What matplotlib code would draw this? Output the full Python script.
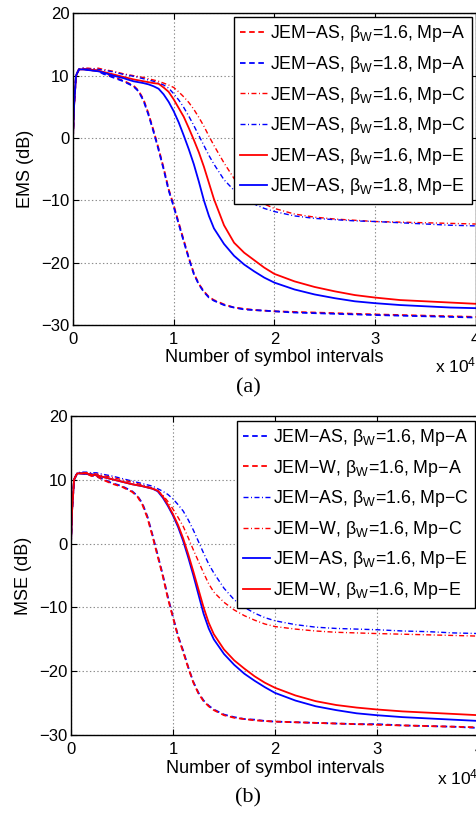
import matplotlib
matplotlib.use("Agg")
import matplotlib.pyplot as plt

plt.rcParams['font.family'] = ['Liberation Sans', 'DejaVu Sans']
plt.rcParams['mathtext.fontset'] = 'custom'
plt.rcParams['mathtext.rm'] = 'Liberation Sans'
plt.rcParams['mathtext.it'] = 'Liberation Sans:italic'
plt.rcParams['mathtext.bf'] = 'Liberation Sans:bold'
plt.rcParams['lines.scale_dashes'] = False
plt.rcParams['axes.unicode_minus'] = True

# symbol index, in units of 10^4 symbol intervals
n_symbols = [0, 0.01, 0.03, 0.06, 0.1, 0.15, 0.2, 0.25, 0.3, 0.4, 0.5, 0.6, 0.65, 0.7,
             0.75, 0.8, 0.85, 0.9, 0.95, 1.0, 1.05, 1.1, 1.15, 1.2, 1.25, 1.3, 1.35,
             1.4, 1.5, 1.6, 1.7, 1.8, 1.9, 2.0, 2.2, 2.4, 2.6, 2.8, 3.0, 3.25, 3.5,
             3.75, 4.0]

# (a) EMS in dB, JEM-AS with two step-size factors
ems_as16_mpa = [0, 5.0, 10.0, 11.1, 11.1, 11.0, 10.8, 10.9, 10.4, 9.8, 9.2, 8.4, 7.6, 6.2,
                3.9, 1.2, -1.7, -4.8, -8.2, -10.8, -13.6, -16.4, -19.2, -21.7, -23.4,
                -24.6, -25.5, -26.0, -26.7, -27.2, -27.4, -27.6, -27.7, -27.8, -27.9,
                -28.0, -28.1, -28.2, -28.3, -28.4, -28.5, -28.6, -28.7]
ems_as18_mpa = [0, 5.2, 10.1, 11.0, 11.1, 10.9, 10.9, 10.7, 10.3, 9.7, 9.1, 8.3, 7.5, 6.0,
                3.7, 1.0, -1.9, -5.0, -8.4, -11.0, -13.8, -16.6, -19.3, -21.8, -23.5,
                -24.7, -25.6, -26.1, -26.8, -27.2, -27.5, -27.6, -27.7, -27.8, -28.0,
                -28.1, -28.2, -28.3, -28.4, -28.5, -28.6, -28.7, -28.8]
ems_as16_mpc = [0, 4.8, 9.8, 11.0, 11.2, 11.2, 11.1, 11.2, 11.0, 10.7, 10.3, 10.0, 9.85,
                9.7, 9.5, 9.3, 9.1, 8.8, 8.5, 8.1, 7.4, 6.6, 5.7, 4.6, 3.3, 1.9, 0.3,
                -1.2, -4.0, -6.5, -8.3, -9.6, -10.6, -11.3, -12.2, -12.7, -13.0, -13.2,
                -13.4, -13.5, -13.6, -13.7, -13.8]
ems_as18_mpc = [0, 5.0, 10.0, 11.1, 11.2, 11.1, 11.1, 11.0, 10.9, 10.6, 10.2, 9.9, 9.7,
                9.5, 9.3, 9.1, 8.8, 8.5, 8.0, 7.1, 6.1, 4.9, 3.5, 2.0, 0.4, -1.2, -2.8,
                -4.2, -6.7, -8.4, -9.6, -10.6, -11.3, -11.8, -12.5, -12.9, -13.1, -13.3,
                -13.4, -13.6, -13.8, -14.0, -14.1]
ems_as16_mpe = [0, 5.0, 10.0, 11.0, 11.0, 11.0, 10.9, 10.8, 10.6, 10.2, 9.8, 9.4, 9.25,
                9.1, 8.95, 8.8, 8.7, 8.1, 7.4, 6.2, 4.8, 3.4, 1.6, -0.3, -2.3, -4.6, -7.2,
                -9.8, -14.0, -16.8, -18.4, -19.6, -20.8, -21.8, -23.0, -23.9, -24.6,
                -25.2, -25.6, -26.0, -26.2, -26.4, -26.6]
ems_as18_mpe = [0, 5.0, 10.0, 11.0, 11.0, 10.9, 10.8, 10.7, 10.5, 10.0, 9.6, 9.1, 8.95,
                8.8, 8.6, 8.3, 7.9, 7.0, 5.8, 4.3, 2.5, 0.4, -1.8, -4.2, -7.0, -10.0,
                -12.5, -14.5, -17.0, -18.9, -20.3, -21.4, -22.4, -23.2, -24.3, -25.1,
                -25.7, -26.2, -26.5, -26.8, -27.0, -27.2, -27.3]

# (b) MSE in dB, JEM-AS vs JEM-W with beta_W = 1.6
mse_as_mpa = [0, 5.0, 10.0, 11.0, 11.0, 10.9, 10.7, 10.5, 10.2, 9.5, 9.0, 8.2, 7.5, 6.3,
              4.2, 1.3, -1.8, -4.9, -8.4, -11.5, -14.5, -16.8, -19.4, -21.7, -23.4, -24.6,
              -25.4, -26.0, -26.8, -27.2, -27.5, -27.6, -27.8, -27.9, -28.0, -28.1, -28.2,
              -28.3, -28.3, -28.5, -28.6, -28.7, -28.9]
mse_w_mpa = [0, 5.2, 10.1, 11.1, 11.0, 11.0, 10.6, 10.6, 10.1, 9.4, 8.9, 8.1, 7.4, 6.1,
             4.0, 1.1, -2.0, -5.1, -8.6, -11.6, -14.6, -17.0, -19.5, -21.8, -23.5, -24.7,
             -25.5, -26.1, -26.9, -27.3, -27.5, -27.7, -27.8, -27.9, -28.0, -28.1, -28.2,
             -28.3, -28.4, -28.5, -28.6, -28.7, -28.8]
mse_as_mpc = [0, 5.0, 10.0, 11.1, 11.2, 11.2, 11.1, 11.1, 10.9, 10.6, 10.2, 9.8, 9.6, 9.4,
              9.2, 9.0, 8.6, 8.2, 7.7, 7.0, 6.1, 5.1, 3.7, 2.1, 0.3, -1.5, -3.2, -4.6, -7.0,
              -8.8, -10.0, -10.9, -11.6, -12.1, -12.7, -13.1, -13.3, -13.4, -13.5, -13.7,
              -13.8, -14.0, -14.1]
mse_w_mpc = [0, 5.0, 10.0, 11.0, 11.1, 11.1, 11.0, 10.9, 10.7, 10.4, 10.0, 9.6, 9.4, 9.2,
             8.95, 8.7, 8.3, 7.6, 6.6, 5.4, 4.1, 2.7, 0.9, -1.0, -2.8, -4.6, -6.3, -7.6,
             -9.2, -10.4, -11.3, -12.0, -12.6, -13.0, -13.4, -13.7, -13.9, -14.0, -14.1,
             -14.2, -14.3, -14.4, -14.5]
mse_as_mpe = [0, 5.0, 10.0, 11.0, 11.0, 10.9, 10.9, 10.7, 10.5, 10.1, 9.7, 9.3, 9.15, 9.0,
              8.8, 8.6, 8.2, 7.2, 5.9, 4.4, 2.6, 0.4, -2.2, -5.0, -8.0, -11.0, -13.3,
              -15.0, -17.3, -19.0, -20.4, -21.5, -22.5, -23.4, -24.6, -25.5, -26.1, -26.6,
              -26.9, -27.2, -27.4, -27.6, -27.8]
mse_w_mpe = [0, 5.0, 10.0, 11.0, 11.0, 11.0, 10.8, 10.7, 10.5, 10.1, 9.7, 9.3, 9.15, 9.0,
             8.8, 8.6, 8.3, 7.4, 6.1, 4.6, 2.9, 0.8, -1.7, -4.4, -7.2, -10.0, -12.4, -14.2,
             -16.6, -18.3, -19.6, -20.8, -21.8, -22.6, -23.8, -24.7, -25.3, -25.7, -26.0,
             -26.3, -26.5, -26.7, -26.9]

x_ticks = [0, 1, 2, 3, 4]
y_ticks = [-30, -20, -10, 0, 10, 20]

labels_a = ["JEM\u2212AS, \u03b2$_\\mathrm{W}$=1.6, Mp\u2212A",
            "JEM\u2212AS, \u03b2$_\\mathrm{W}$=1.8, Mp\u2212A",
            "JEM\u2212AS, \u03b2$_\\mathrm{W}$=1.6, Mp\u2212C",
            "JEM\u2212AS, \u03b2$_\\mathrm{W}$=1.8, Mp\u2212C",
            "JEM\u2212AS, \u03b2$_\\mathrm{W}$=1.6, Mp\u2212E",
            "JEM\u2212AS, \u03b2$_\\mathrm{W}$=1.8, Mp\u2212E"]
labels_b = ["JEM\u2212AS, \u03b2$_\\mathrm{W}$=1.6, Mp\u2212A",
            "JEM\u2212W, \u03b2$_\\mathrm{W}$=1.6, Mp\u2212A",
            "JEM\u2212AS, \u03b2$_\\mathrm{W}$=1.6, Mp\u2212C",
            "JEM\u2212W, \u03b2$_\\mathrm{W}$=1.6, Mp\u2212C",
            "JEM\u2212AS, \u03b2$_\\mathrm{W}$=1.6, Mp\u2212E",
            "JEM\u2212W, \u03b2$_\\mathrm{W}$=1.6, Mp\u2212E"]

RED = (1, 0, 0)
BLUE = (0, 0, 1)
DASH = dict(linestyle='--', dashes=(4.0, 2.6), lw=1.3)
DASHDOT = dict(linestyle='-.', dashes=(3.6, 1.8, 0.7, 1.8), lw=1.0)
SOLID = dict(linestyle='-', lw=1.3)

LEGEND_SIZE = 12.8
LABEL_SIZE = 13
TICK_SIZE = 12

W, H = 476, 814
fig = plt.figure(figsize=(W / 100, H / 100), dpi=100)


def frac_x(px):
    return px / W


def frac_y(py):
    return 1 - py / H


def style_axes(ax, ylabel):
    ax.set_xlim(0, 4)
    ax.set_ylim(-30, 20)
    ax.set_xticks(x_ticks)
    ax.set_yticks(y_ticks)
    ax.tick_params(direction='in', length=4, width=0.8, top=True, right=True,
                   labelsize=TICK_SIZE)
    ax.tick_params(axis='x', pad=5)
    ax.tick_params(axis='y', pad=2.5)
    ax.grid(True, linestyle=':', color='#8c8c8c', lw=0.8)
    for s in ax.spines.values():
        s.set_linewidth(1.0)
        s.set_color('black')
    ax.set_xlabel("Number of symbol intervals", fontsize=LABEL_SIZE, va='baseline')
    ax.xaxis.set_label_coords(0.5, -0.118)
    ax.set_ylabel(ylabel, fontsize=LABEL_SIZE, va='center')


def add_legend(ax, anchor):
    leg = ax.legend(loc='upper right', bbox_to_anchor=anchor,
                    bbox_transform=fig.transFigure, fontsize=LEGEND_SIZE, frameon=True,
                    fancybox=False, shadow=False, framealpha=1, edgecolor='black',
                    handlelength=1.5, handletextpad=0.15, borderpad=0.36,
                    labelspacing=0.54, borderaxespad=0)
    leg.get_frame().set_linewidth(1.0)
    return leg


# ---- panel (a) ----
ax1 = fig.add_axes([frac_x(73), frac_y(325), (475.7 - 73) / W, (325 - 13.3) / H])
ax1.plot(n_symbols, ems_as16_mpa, color=RED, label=labels_a[0], **DASH)
ax1.plot(n_symbols, ems_as18_mpa, color=BLUE, label=labels_a[1], **DASH)
ax1.plot(n_symbols, ems_as16_mpc, color=RED, label=labels_a[2], **DASHDOT)
ax1.plot(n_symbols, ems_as18_mpc, color=BLUE, label=labels_a[3], **DASHDOT)
ax1.plot(n_symbols, ems_as16_mpe, color=RED, label=labels_a[4], **SOLID)
ax1.plot(n_symbols, ems_as18_mpe, color=BLUE, label=labels_a[5], **SOLID)
style_axes(ax1, "EMS (dB)")
ax1.yaxis.set_label_coords((26 - 73) / (475.7 - 73), 0.5)
add_legend(ax1, (frac_x(472), frac_y(17)))
fig.text(frac_x(435), frac_y(365), "x 10$^4$", fontsize=12.5, ha='left', va='center')
fig.text(frac_x(248), frac_y(388), "(a)", fontsize=16, ha='center', va='center',
         family=['Liberation Serif', 'DejaVu Serif'])

# ---- panel (b) ----
ax2 = fig.add_axes([frac_x(71), frac_y(735), (479 - 71) / W, (735 - 416) / H])
ax2.plot(n_symbols, mse_as_mpa, color=BLUE, label=labels_b[0], **DASH)
ax2.plot(n_symbols, mse_w_mpa, color=RED, label=labels_b[1], **DASH)
ax2.plot(n_symbols, mse_as_mpc, color=BLUE, label=labels_b[2], **DASHDOT)
ax2.plot(n_symbols, mse_w_mpc, color=RED, label=labels_b[3], **DASHDOT)
ax2.plot(n_symbols, mse_as_mpe, color=BLUE, label=labels_b[4], **SOLID)
ax2.plot(n_symbols, mse_w_mpe, color=RED, label=labels_b[5], **SOLID)
style_axes(ax2, "MSE (dB)")
ax2.yaxis.set_label_coords((23 - 71) / (479 - 71), 0.5)
add_legend(ax2, (frac_x(475), frac_y(420.7)))
fig.text(frac_x(437), frac_y(777), "x 10$^4$", fontsize=12.5, ha='left', va='center')
fig.text(frac_x(248), frac_y(798), "(b)", fontsize=16, ha='center', va='center',
         family=['Liberation Serif', 'DejaVu Serif'])

fig.savefig("out.png", dpi=100)
